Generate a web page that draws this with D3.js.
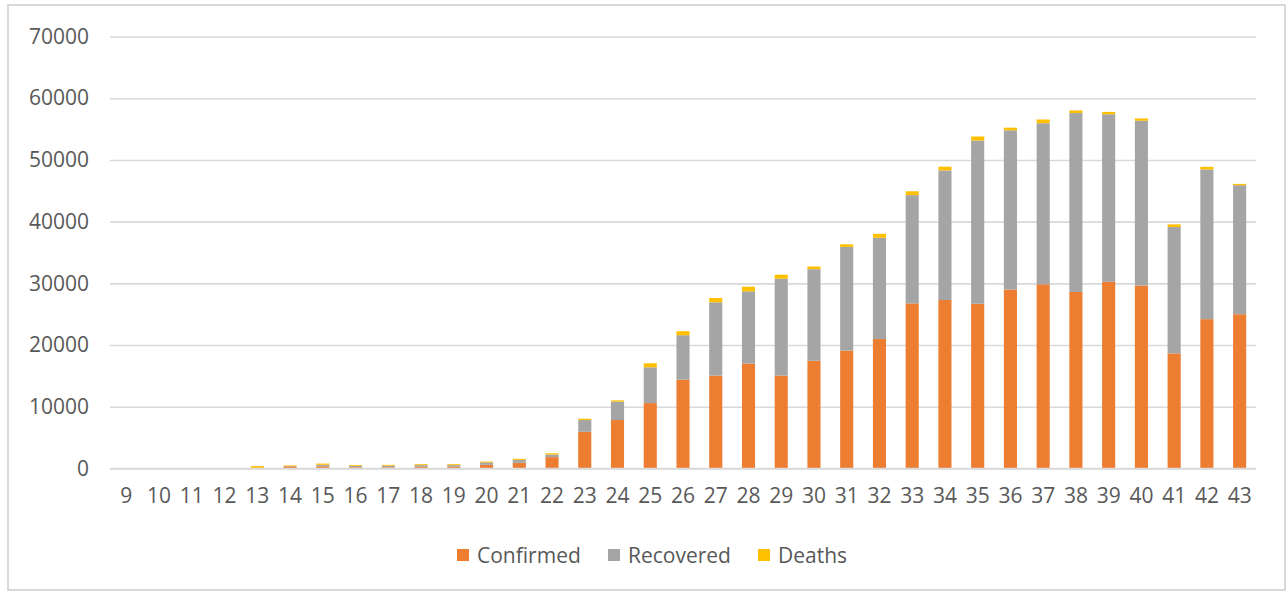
<!DOCTYPE html>
<html>
<head>
<meta charset="utf-8">
<script src="https://cdn.jsdelivr.net/npm/d3@7"></script>
<style>
  html, body { margin: 0; padding: 0; background: #ffffff; }
  svg { display: block; }
  text { font-family: "Open Sans", "Noto Sans", sans-serif; fill: #595959; }
</style>
</head>
<body>
<svg id="chart" width="1288" height="592"></svg>
<script>
const categories = [9,10,11,12,13,14,15,16,17,18,19,20,21,22,23,24,25,26,27,28,29,30,31,32,33,34,35,36,37,38,39,40,41,42,43];
const confirmed = [0,0,0,0,100,350,350,200,200,300,300,600,920,1850,5950,7850,10600,14400,15050,17000,15050,17450,19100,20980,26750,27300,26700,29000,29850,28600,30250,29650,18650,24200,25000];
const recovered = [0,0,0,0,0,50,250,200,250,250,250,380,480,420,1900,2980,5800,7200,11880,11700,15700,14850,16800,16400,17550,21000,26450,25800,26100,29000,27150,26700,20480,24250,20900];
const deaths = [0,0,0,0,300,100,200,140,140,150,150,150,170,200,210,210,650,650,700,750,650,430,430,650,620,600,650,430,600,430,380,380,430,430,220];
const seriesNames = ["Confirmed", "Recovered", "Deaths"];
const seriesColors = ["#ED7D31", "#A5A5A5", "#FFC000"];
const yTicks = [0,10000,20000,30000,40000,50000,60000,70000];

const svg = d3.select("#chart");

// chart border
svg.append("rect")
  .attr("x", 8).attr("y", 5).attr("width", 1277).attr("height", 585)
  .attr("fill", "#ffffff").attr("stroke", "#D9D9D9").attr("stroke-width", 2);

const plotLeft = 110, plotRight = 1256, plotTop = 36.5, plotBottom = 468.5;

const x = d3.scaleBand().domain(categories).range([plotLeft, plotRight]).paddingInner(0.6).paddingOuter(0.3);
const y = d3.scaleLinear().domain([0, 70000]).range([plotBottom, plotTop]);

// gridlines + y labels
const yAxis = d3.axisLeft(y).tickValues(yTicks).tickSize(-(plotRight - plotLeft)).tickFormat(d => d).tickPadding(21);
const gy = svg.append("g").attr("transform", `translate(${plotLeft},0)`).call(yAxis);
gy.select(".domain").remove();
gy.selectAll(".tick line").attr("stroke", "#D9D9D9").attr("stroke-width", 1.6);
gy.selectAll(".tick text").style("font-size", "21px").attr("fill", "#595959");

// stacked data
const rows = categories.map((c, i) => ({ cat: c, Confirmed: confirmed[i], Recovered: recovered[i], Deaths: deaths[i] }));
const stacked = d3.stack().keys(seriesNames)(rows);

svg.append("g").selectAll("g")
  .data(stacked).join("g")
  .attr("fill", (d, i) => seriesColors[i])
  .selectAll("rect")
  .data(d => d).join("rect")
  .attr("x", d => x(d.data.cat))
  .attr("width", x.bandwidth())
  .attr("y", d => y(d[1]))
  .attr("height", d => Math.max(0, y(d[0]) - y(d[1])));

// x axis labels
const xAxis = d3.axisBottom(x).tickSize(0).tickPadding(20);
const gx = svg.append("g").attr("transform", `translate(0,${plotBottom})`).call(xAxis);
gx.select(".domain").remove();
gx.selectAll(".tick text").style("font-size", "21px").attr("fill", "#595959");

// baseline
svg.append("line").attr("x1", plotLeft).attr("x2", plotRight).attr("y1", y(0)).attr("y2", y(0))
  .attr("stroke", "#D9D9D9").attr("stroke-width", 1.6);

// legend
const legendX = [457, 608, 758];
const lg = svg.append("g");
seriesNames.forEach((name, i) => {
  lg.append("rect").attr("x", legendX[i]).attr("y", 549).attr("width", 12).attr("height", 12).attr("fill", seriesColors[i]);
  lg.append("text").attr("x", legendX[i] + 20).attr("y", 562.5).style("font-size", "21px").text(name);
});
</script>
</body>
</html>
